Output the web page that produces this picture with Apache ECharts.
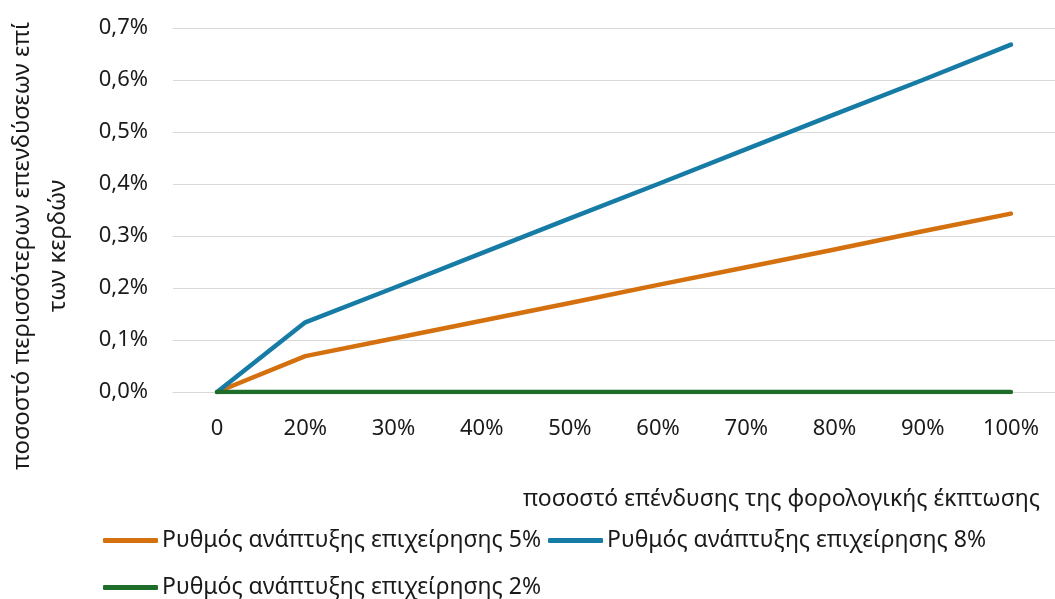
<!DOCTYPE html>
<html>
<head>
<meta charset="utf-8">
<script src="https://cdn.jsdelivr.net/npm/echarts@6/dist/echarts.min.js"></script>
<style>
  html, body { margin: 0; padding: 0; background: #fff; overflow: hidden; }
  #chart { width: 1055px; height: 599px; }
</style>
</head>
<body>
<div id="chart"></div>
<script>
// Share of the tax rebate that is reinvested
const categories = ['0', '20%', '30%', '40%', '50%', '60%', '70%', '80%', '90%', '100%'];

// Extra investment out of profits, in percent
const growth5 = [0, 0.069, 0.103, 0.137, 0.171, 0.206, 0.240, 0.274, 0.309, 0.343];
const growth8 = [0, 0.134, 0.200, 0.267, 0.334, 0.400, 0.467, 0.534, 0.600, 0.668];
const growth2 = [0, 0, 0, 0, 0, 0, 0, 0, 0, 0];

const seriesNames = [
  'Ρυθμός ανάπτυξης επιχείρησης 5%',
  'Ρυθμός ανάπτυξης επιχείρησης 8%',
  'Ρυθμός ανάπτυξης επιχείρησης 2%'
];
const colors = ['#D5700F', '#167CA6', '#1E6E2A'];

const FONT = 'Noto Sans';
const textColor = '#1a1a1a';

const chart = echarts.init(document.getElementById('chart'));

function lineSeries(name, data, color) {
  return {
    name: name,
    type: 'line',
    data: data,
    symbol: 'none',
    color: color,
    lineStyle: { width: 4.5, color: color, cap: 'round', join: 'round' },
    emphasis: { disabled: true }
  };
}

const legendBase = {
  orient: 'horizontal',
  itemWidth: 55,
  itemHeight: 5,
  itemGap: 7,
  icon: 'roundRect',
  textStyle: { fontFamily: FONT, fontSize: 23, color: textColor, padding: [0, 0, 0, -1] },
  selectedMode: false,
  padding: 0
};

chart.setOption({
  animation: false,
  grid: { left: 173, top: 28, right: -11, bottom: 207 },
  xAxis: {
    type: 'category',
    data: categories,
    boundaryGap: true,
    axisLine: { show: true, lineStyle: { color: '#d9d9d9', width: 1 } },
    axisTick: { show: false },
    axisLabel: { fontFamily: FONT, fontSize: 22, color: textColor, margin: 26 }
  },
  yAxis: {
    type: 'value',
    min: 0,
    max: 0.7,
    interval: 0.1,
    axisLine: { show: false },
    axisTick: { show: false },
    splitLine: { lineStyle: { color: '#d9d9d9', width: 1 } },
    axisLabel: {
      fontFamily: FONT, fontSize: 22, color: textColor, margin: 25,
      formatter: v => v.toFixed(1).replace('.', ',') + '%'
    }
  },
  legend: [
    Object.assign({}, legendBase, { left: 103, top: 529, data: [seriesNames[0], seriesNames[1]] }),
    Object.assign({}, legendBase, { left: 103, top: 576, data: [seriesNames[2]] })
  ],
  graphic: [
    {
      type: 'text',
      x: 40, y: 246,
      rotation: Math.PI / 2,
      style: {
        text: 'ποσοστό περισσότερων επενδύσεων επί\nτων κερδών',
        fontFamily: FONT, fontSize: 24, fill: textColor,
        align: 'center', verticalAlign: 'middle', lineHeight: 36
      }
    },
    {
      type: 'text',
      x: 1040, y: 499,
      style: {
        text: 'ποσοστό επένδυσης της φορολογικής έκπτωσης',
        fontFamily: FONT, fontSize: 23, fill: textColor,
        align: 'right', verticalAlign: 'middle'
      }
    }
  ],
  series: [
    lineSeries(seriesNames[0], growth5, colors[0]),
    lineSeries(seriesNames[1], growth8, colors[1]),
    lineSeries(seriesNames[2], growth2, colors[2])
  ]
});
</script>
</body>
</html>
